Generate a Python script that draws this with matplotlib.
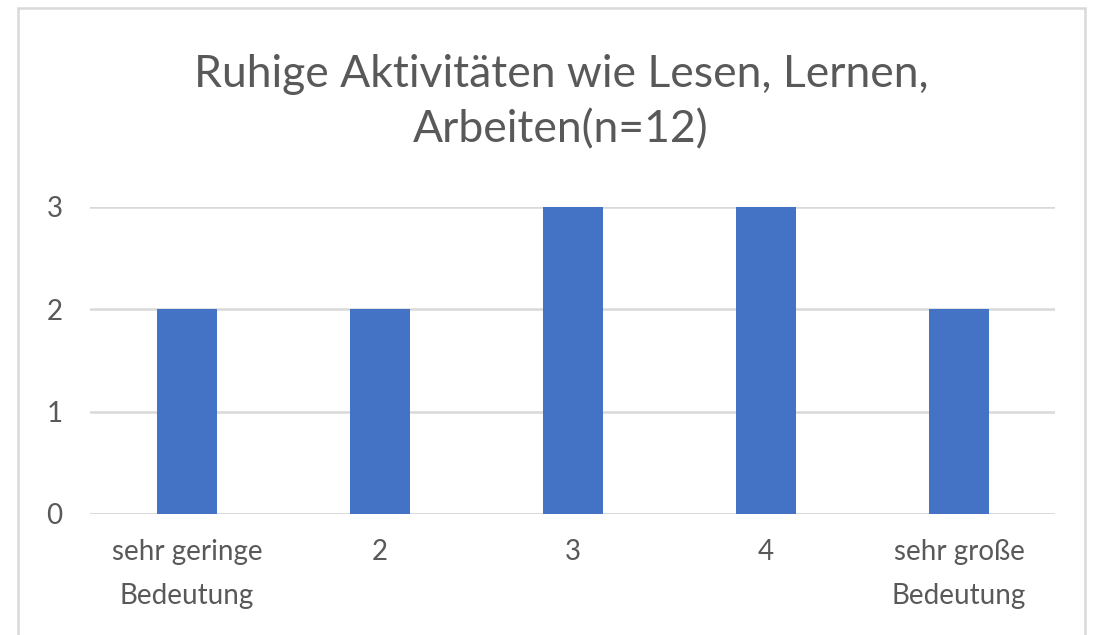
import matplotlib.pyplot as plt
from matplotlib.patches import Rectangle

categories = ["sehr geringe\nBedeutung", "2", "3", "4", "sehr große\nBedeutung"]
values = [2, 2, 3, 3, 2]
title = "Ruhige Aktivitäten wie Lesen, Lernen,\nArbeiten(n=12)"

plt.rcParams['font.family'] = ['Lato', 'DejaVu Sans']

fig = plt.figure(figsize=(11.02, 6.35), dpi=100)
ax = fig.add_axes([0.0821, 0.1906, 0.8757, 0.4835])

x = list(range(len(categories)))
ax.bar(x, values, width=0.31, color='#4472C4', zorder=3)

ax.set_xlim(-0.5, len(categories) - 0.5)
ax.set_ylim(0, 3)
ax.set_yticks([0, 1, 2, 3])
ax.set_xticks(x)
ax.set_xticklabels(categories, fontsize=20, color='#595959', linespacing=1.85)
ax.tick_params(axis='y', labelsize=20, labelcolor='#595959', length=0, pad=20)
ax.tick_params(axis='x', length=0, pad=18)
ax.grid(axis='y', color='#D9D9D9', linewidth=1.8, zorder=0)
for s in ax.spines.values():
    s.set_visible(False)
ax.axhline(0, color='#D9D9D9', linewidth=1.8, zorder=2)

fig.text(0.509, 0.839, title, ha='center', va='center', fontsize=32,
         color='#595959', linespacing=1.45)

# chart border
fig.patches.append(Rectangle((18 / 1102, -0.05), (1085 - 18) / 1102, 1.05 - 8 / 635,
                             transform=fig.transFigure, fill=False,
                             edgecolor='#D9D9D9', linewidth=1.8))

fig.savefig('out.png', dpi=100)
